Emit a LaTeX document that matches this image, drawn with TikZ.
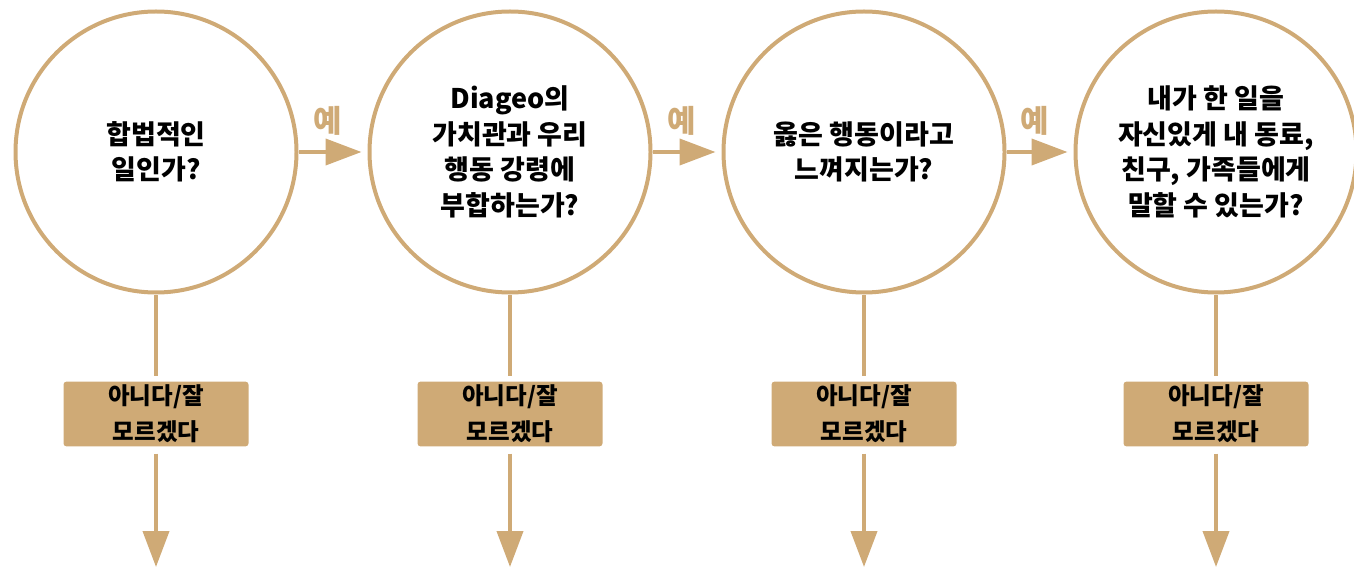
\documentclass[tikz,border=0pt]{standalone}
\usepackage{fontspec}
\setmainfont{Noto Sans CJK KR}
\usepackage{tikz}
\usetikzlibrary{arrows.meta, positioning}
\definecolor{DiaTan}{RGB}{207,170,118}

\begin{document}
\begin{tikzpicture}[x=1pt, y=-1pt,
        question/.style={circle, draw=DiaTan, line width=4pt, minimum size=281pt, align=center, font=\fontsize{27}{35.5}\selectfont\bfseries},
        answer/.style={rectangle, fill=DiaTan, rounded corners=3pt, minimum width=185pt, minimum height=64pt, align=center, font=\fontsize{23.5}{36}\selectfont\bfseries},
        flow/.style={draw=DiaTan, line width=4pt, -{Triangle[length=36pt, width=26pt]}},
        stem/.style={draw=DiaTan, line width=4pt, shorten >=5pt},
        yes/.style={text=DiaTan, font=\fontsize{31}{32}\selectfont\bfseries}]
        \useasboundingbox (0,0) rectangle (1354,569);
        \node[question] (Legal) at (156,152) {합법적인\\일인가?};
        \node[question] (Values) at (510,152) {Diageo의\\가치관과 우리\\행동 강령에\\부합하는가?};
        \node[question] (Right) at (864,152) {옳은 행동이라고\\느껴지는가?};
        \node[question] (Tell) at (1216,152) {내가 한 일을\\자신있게 내 동료,\\친구, 가족들에게\\말할 수 있는가?};
        \node[answer] (NoLegal) at ([yshift=-262pt] Legal) {아니다/잘\\모르겠다};
        \node[answer] (NoValues) at ([yshift=-262pt] Values) {아니다/잘\\모르겠다};
        \node[answer] (NoRight) at ([yshift=-262pt] Right) {아니다/잘\\모르겠다};
        \node[answer] (NoTell) at ([yshift=-262pt] Tell) {아니다/잘\\모르겠다};
        \coordinate (EndLegal) at ([yshift=-415pt] Legal);
        \coordinate (EndValues) at ([yshift=-415pt] Values);
        \coordinate (EndRight) at ([yshift=-415pt] Right);
        \coordinate (EndTell) at ([yshift=-415pt] Tell);
        \draw[flow, shorten >=6pt] (Legal) -- (Values) node[midway, above=11pt, xshift=-5pt, yes] {예};
        \draw[flow, shorten >=6pt] (Values) -- (Right) node[midway, above=11pt, xshift=-5pt, yes] {예};
        \draw[flow, shorten >=6pt] (Right) -- (Tell) node[midway, above=11pt, xshift=-5pt, yes] {예};
        \draw[stem] (Legal) -- (NoLegal);
        \draw[stem] (Values) -- (NoValues);
        \draw[stem] (Right) -- (NoRight);
        \draw[stem] (Tell) -- (NoTell);
        \draw[flow, shorten <=7pt] (NoLegal) -- (EndLegal);
        \draw[flow, shorten <=7pt] (NoValues) -- (EndValues);
        \draw[flow, shorten <=7pt] (NoRight) -- (EndRight);
        \draw[flow, shorten <=7pt] (NoTell) -- (EndTell);
    \end{tikzpicture}
\end{document}
